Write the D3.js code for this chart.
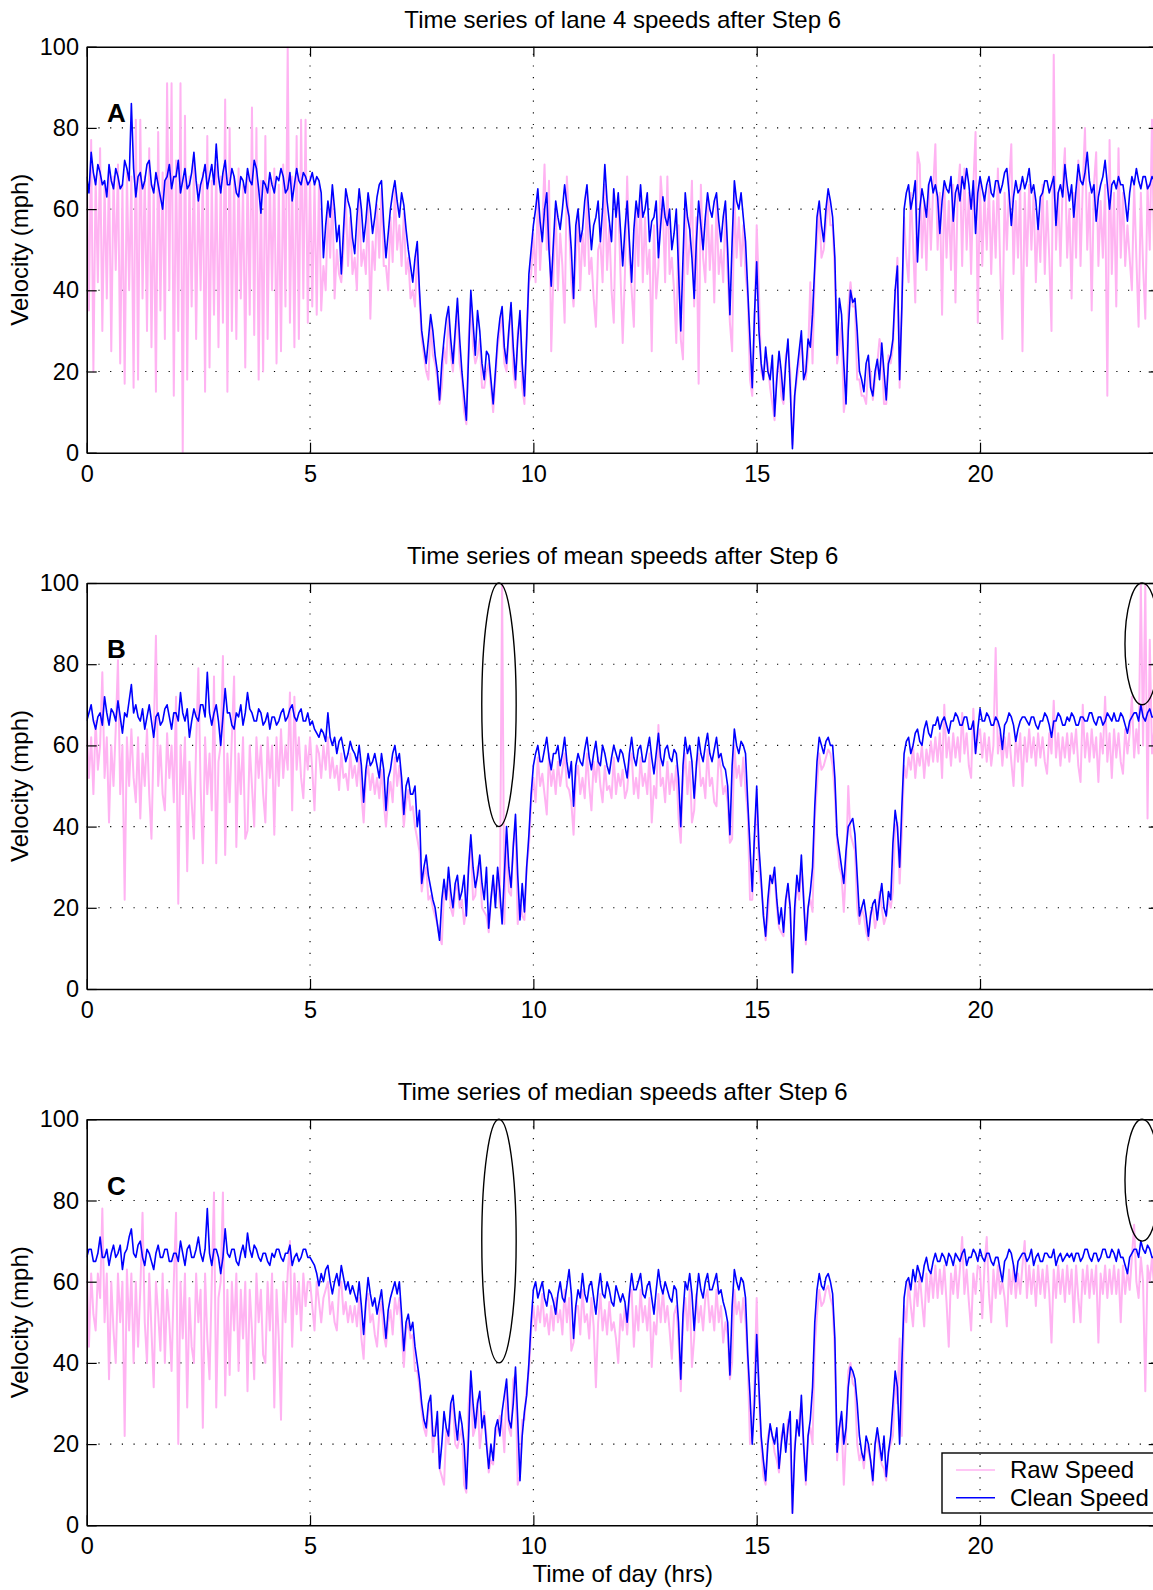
<!DOCTYPE html>
<html><head><meta charset="utf-8">
<script src="https://cdn.jsdelivr.net/npm/d3@7"></script>
<style>
body{margin:0;background:#fff;}
svg text{font-family:"Liberation Sans",Arial,Helvetica,sans-serif;}
</style></head><body>
<svg id="chart" width="1153" height="1590"></svg>
<script>
// ---------- axes / labels ----------
const hourTicks = [0, 5, 10, 15, 20];
const velTicks = [0, 20, 40, 60, 80, 100];
const titles = ["Time series of lane 4 speeds after Step 6",
                "Time series of mean speeds after Step 6",
                "Time series of median speeds after Step 6"];
const panelLetters = ["A", "B", "C"];
const seriesNames = ["Raw Speed", "Clean Speed"];
const rawStep = 0.05;    // hours between raw samples
const cleanStep = 0.05;  // hours between clean samples

// ---------- panel A (lane 4) ----------
const cleanA = [
68,64,74,69,66,71,69,66,67,63,71,67,65,70,68,65,66,72,70,67,
86,70,63,68,69,65,67,71,72,66,64,69,66,63,60,67,68,71,65,68,
68,72,64,67,70,65,66,69,74,67,62,66,68,71,65,68,71,66,76,68,
64,69,72,66,66,70,68,64,63,68,67,64,70,67,66,72,70,65,59,67,
66,64,69,66,64,68,67,70,68,64,65,69,62,66,70,67,66,69,68,66,
67,69,66,68,67,64,48,56,62,58,66,60,52,56,44,55,65,62,60,53,
49,58,65,60,52,57,64,60,54,58,63,66,67,56,48,54,60,64,67,62,
58,64,61,55,50,46,42,48,52,40,30,26,22,28,34,30,24,20,13,22,
28,33,36,28,22,30,38,28,20,14,8,24,40,32,24,35,30,22,18,25,
24,18,12,20,28,33,36,26,22,30,37,26,18,28,35,22,14,28,44,50,
56,60,65,57,52,60,64,50,41,52,62,58,55,60,66,61,58,50,38,56,
60,52,55,62,66,58,50,56,58,62,52,60,71,62,57,52,65,58,64,55,
46,55,62,52,42,55,62,58,66,58,60,64,52,57,58,62,48,56,63,58,
56,60,50,54,60,45,30,48,64,58,55,48,38,52,62,56,50,58,64,60,
58,62,64,57,52,58,62,50,34,52,67,62,60,64,58,52,40,28,16,34,
47,30,22,18,26,20,18,24,9,18,25,20,13,22,28,16,1,14,20,25,
30,18,20,28,26,34,46,58,62,56,52,60,65,62,58,48,24,38,34,22,
12,30,40,37,38,30,20,18,15,22,24,16,14,20,23,18,27,20,13,22,
24,28,40,46,18,36,60,64,66,60,63,67,47,60,65,62,58,66,68,64,
66,63,54,62,67,65,64,68,57,64,66,62,68,65,70,66,60,67,54,64,
68,65,62,66,68,64,63,67,67,64,66,69,70,64,56,63,67,64,65,68,
65,67,70,64,66,62,55,63,64,67,67,64,66,68,56,64,66,63,71,66,
62,66,58,65,71,67,66,69,74,67,64,66,57,63,66,68,72,66,60,66,
67,65,68,66,66,62,57,64,68,66,70,67,65,68,68,65,66,68,67,65,
66];
const rawA = [
70,35,77,20,68,42,75,30,66,38,70,25,68,45,71,22,66,17,69,40,
68,16,82,18,82,38,68,30,75,26,66,15,79,35,69,28,91,40,91,14,
72,30,91,0,83,18,68,36,72,28,66,40,69,15,78,21,67,34,71,26,
68,32,87,15,80,30,68,28,70,38,66,21,69,34,85,29,80,18,67,20,
78,28,68,40,70,22,66,25,71,36,100,32,68,26,78,28,82,38,82,32,
68,36,66,34,66,35,46,40,60,48,64,38,50,44,42,50,63,46,58,44,
48,40,63,46,50,44,62,33,52,45,61,48,65,46,46,40,58,47,65,50,
56,46,59,44,48,38,40,36,50,38,28,24,20,18,32,24,22,18,12,16,
26,22,34,24,20,28,36,22,18,10,7,28,38,26,22,24,28,16,16,20,
22,16,10,18,26,30,34,22,20,30,35,20,16,30,33,16,12,30,42,44,
54,42,63,45,56,71,50,67,25,44,60,40,54,46,32,68,56,42,36,48,
58,40,54,46,64,44,48,38,31,50,52,42,66,45,56,40,32,60,62,44,
27,44,68,48,40,31,60,46,64,42,58,44,50,25,56,38,46,68,60,42,
68,44,48,40,27,56,28,23,62,44,52,67,36,58,17,66,48,42,62,45,
56,37,62,44,50,42,60,44,32,25,64,48,58,46,56,44,38,18,14,30,
56,40,20,18,24,22,16,12,8,20,23,14,12,24,26,20,2,14,18,22,
28,22,18,24,42,22,44,52,60,48,50,56,63,56,56,44,22,26,32,10,
14,36,42,36,36,18,18,14,14,12,22,20,13,18,22,28,25,12,12,24,
22,26,38,48,16,36,58,48,42,64,52,37,74,71,48,62,45,66,50,65,
76,50,64,34,66,48,62,45,66,37,64,71,46,70,50,64,44,66,79,32,
66,46,64,50,66,44,62,48,70,46,28,64,50,66,76,44,62,48,66,25,
64,46,66,50,64,42,58,47,66,44,62,48,30,98,50,64,46,66,75,48,
60,38,64,48,72,46,66,80,50,64,35,66,74,46,62,48,66,14,77,44,
64,36,75,48,64,46,56,48,40,66,48,31,64,46,33,66,50,82,46,64,
62];

// ---------- panel B (mean) ----------
const cleanB = [
66,68,70,66,64,67,68,65,72,68,65,69,68,66,71,67,63,68,67,71,
75,68,70,67,66,69,64,67,70,66,62,67,68,65,66,69,70,67,64,68,
68,66,73,68,66,69,62,66,69,67,66,70,70,67,78,68,65,68,70,66,
60,67,74,68,68,65,64,68,67,70,65,68,73,69,68,66,66,69,68,65,
66,68,64,67,67,65,66,68,69,66,67,69,70,67,66,68,69,66,66,68,
65,66,64,63,62,64,63,61,68,62,60,62,58,61,62,59,56,58,61,59,
58,56,60,55,46,54,58,55,56,58,55,52,58,54,44,52,54,58,60,56,
58,52,43,50,52,48,48,50,40,44,26,30,33,28,25,22,20,16,12,22,
27,22,30,24,20,26,28,22,24,28,18,30,38,30,25,28,33,26,22,30,
15,22,28,20,30,24,16,28,40,30,25,35,43,28,17,26,19,30,38,48,
55,58,60,56,56,59,62,57,54,58,58,60,55,58,62,56,52,56,45,55,
58,56,55,59,62,57,54,58,61,56,55,60,58,55,53,57,60,58,56,59,
58,55,52,58,62,57,55,59,60,56,56,59,62,57,53,58,63,57,55,59,
60,57,56,59,58,52,40,55,62,58,60,56,47,55,62,58,56,60,63,58,
56,59,62,57,58,55,54,50,38,55,64,60,58,61,60,58,46,35,24,38,
50,35,27,18,13,22,28,26,30,22,16,20,14,22,26,20,4,20,28,24,
33,22,12,20,24,30,45,56,62,60,58,61,62,60,60,52,38,34,30,26,
34,40,41,42,38,28,18,20,22,18,13,18,21,22,17,22,26,20,18,24,
22,36,44,40,30,45,58,61,62,58,60,63,64,61,60,64,66,63,62,65,
65,67,64,66,67,65,63,66,66,68,67,65,65,67,67,64,64,66,58,64,
69,66,66,68,67,65,65,67,66,64,59,65,66,68,67,65,61,64,66,67,
67,66,65,67,67,65,64,66,66,68,67,65,62,66,66,68,67,65,65,67,
66,68,67,65,65,67,67,66,66,68,68,66,65,67,67,65,66,68,67,66,
68,66,66,68,67,65,63,66,67,68,68,66,70,67,66,68,69,67,67,69,
67];
const rawB = [
64,52,62,48,66,54,60,78,52,62,41,60,50,64,81,48,60,22,62,50,
64,52,46,62,42,58,50,64,48,37,62,87,50,60,48,44,63,52,60,46,
72,21,60,48,62,29,56,46,37,60,79,50,31,62,48,58,44,77,31,56,
60,82,33,58,46,62,77,35,58,48,62,37,39,60,50,40,62,52,60,48,
41,62,52,60,38,62,50,64,52,60,54,73,44,72,54,62,52,47,60,54,
62,54,44,60,58,52,60,54,62,52,57,52,55,49,58,52,53,49,58,52,
55,50,57,48,41,52,55,49,53,48,52,47,54,46,40,47,51,46,57,50,
55,48,40,46,49,44,45,40,37,34,24,28,30,22,23,20,18,16,13,11,
24,22,28,20,18,24,26,20,22,16,20,30,36,22,23,30,31,20,19,18,
14,22,26,24,28,20,100,16,38,24,23,36,40,16,22,18,17,30,35,46,
52,46,57,50,53,48,43,58,50,54,48,56,50,54,58,50,49,46,38,52,
55,48,52,47,58,50,44,56,51,57,50,46,55,49,50,47,57,48,53,50,
54,47,49,56,58,48,52,47,57,50,53,48,58,41,50,47,65,50,52,46,
56,48,53,49,55,42,36,52,58,48,56,41,44,56,58,50,52,47,59,50,
52,46,45,58,54,48,50,46,36,37,60,52,55,50,57,49,43,22,22,36,
47,30,25,20,12,18,26,28,28,20,15,14,13,22,24,20,4,18,26,22,
30,24,11,20,22,19,42,50,58,54,55,57,59,58,55,48,36,30,28,19,
30,50,38,36,34,20,16,20,18,14,12,19,20,15,18,24,20,16,18,22,
20,24,40,41,26,38,55,52,57,54,60,52,58,55,60,52,59,55,61,56,
62,56,63,52,70,57,62,55,63,57,62,56,68,58,63,55,52,69,58,62,
64,57,63,56,62,55,60,84,58,63,55,62,57,63,56,50,62,56,63,50,
62,56,64,57,62,55,63,57,62,56,53,63,58,71,57,63,55,62,57,63,
56,63,58,64,55,51,70,57,63,56,64,57,62,51,63,58,72,56,63,52,
64,57,63,56,53,64,58,63,72,57,64,58,100,60,100,42,86,58,64,57,
64];

// ---------- panel C (median) ----------
const cleanC = [
66,68,68,65,65,67,71,66,66,68,64,67,69,66,67,69,63,67,68,71,
73,67,66,69,70,66,64,68,67,65,63,67,69,66,66,68,68,65,65,67,
67,65,70,67,64,68,69,66,66,68,71,67,65,68,78,67,64,68,68,66,
62,66,73,67,66,68,68,65,64,67,69,66,72,68,66,69,68,66,65,67,
67,65,64,67,66,68,68,66,65,67,67,69,64,66,67,65,66,68,68,66,
66,65,64,62,59,62,60,63,64,60,57,60,62,59,64,61,58,60,57,59,
57,55,60,54,47,55,61,57,54,56,52,55,58,52,46,53,56,58,60,57,
60,52,43,50,52,48,50,44,40,36,30,26,24,30,32,22,22,28,14,20,
28,24,22,30,32,26,21,28,25,20,9,22,38,30,24,30,33,24,27,20,
14,20,16,24,26,22,28,32,36,26,24,30,39,26,11,22,28,32,40,50,
58,60,56,58,60,56,54,58,57,55,52,57,60,56,55,59,63,57,46,54,
58,56,62,57,55,59,60,56,52,58,62,57,56,60,58,55,54,59,57,55,
57,55,50,57,62,58,58,60,62,57,56,59,60,56,52,58,63,59,57,60,
58,56,55,59,58,50,36,52,60,58,62,57,48,56,62,58,56,60,62,58,
58,60,62,57,58,55,53,50,37,54,63,60,58,61,60,56,42,32,20,30,
47,34,22,16,11,20,25,22,20,24,14,20,25,18,24,28,3,18,26,22,
32,20,11,22,26,34,50,58,62,59,58,61,62,60,57,46,18,24,28,20,
24,34,39,38,36,30,22,18,16,22,20,16,11,20,24,20,16,22,12,18,
22,30,38,34,20,40,56,60,61,58,63,60,64,62,60,64,66,63,62,65,
67,65,65,67,66,64,67,66,64,67,66,65,67,68,64,66,66,68,67,65,
68,66,65,67,67,65,64,66,66,63,60,65,66,68,67,64,60,65,66,67,
67,65,66,68,64,66,67,65,65,67,67,66,66,68,64,66,67,65,66,67,
66,67,65,67,67,65,66,68,68,66,65,67,67,65,66,68,68,66,66,68,
67,65,68,66,66,64,62,66,67,68,68,66,70,68,67,69,68,66,66,68,
67];
const rawC = [
64,44,62,52,48,62,56,78,50,62,36,60,48,40,62,50,60,22,63,48,
62,40,60,44,58,77,50,40,62,48,34,60,52,43,62,40,58,50,38,60,
77,20,60,46,62,29,56,44,40,62,50,58,24,62,46,36,60,82,29,56,
60,82,32,58,37,60,48,62,38,58,46,60,33,58,48,36,62,50,58,42,
40,60,48,62,29,58,46,26,60,50,62,70,44,62,52,60,48,62,54,60,
60,54,48,60,55,50,56,58,60,52,55,50,48,58,60,52,55,50,54,50,
54,49,56,46,41,55,57,50,52,47,44,52,55,47,44,50,53,47,56,52,
56,48,39,48,50,46,47,38,38,34,28,24,22,28,30,18,24,26,14,12,
10,24,20,28,30,20,19,22,24,10,8,30,36,22,24,31,19,24,28,22,
13,16,15,22,24,27,26,18,34,24,22,36,37,10,12,26,26,34,38,48,
54,48,54,50,57,49,52,47,54,48,56,50,53,47,58,50,56,43,45,54,
54,47,58,50,52,46,56,49,34,50,57,48,53,47,55,48,50,46,40,52,
48,54,47,56,58,44,54,48,58,50,54,48,56,39,50,47,57,50,58,50,
54,48,41,52,54,46,33,50,56,48,58,39,46,57,50,54,48,56,58,50,
54,48,58,50,54,45,50,47,36,40,58,52,55,50,56,50,40,20,22,35,
56,32,20,12,10,22,24,22,18,16,13,22,24,20,26,22,3,20,24,26,
30,20,10,22,24,20,44,52,58,54,55,58,59,56,54,42,16,24,26,10,
22,38,40,35,34,20,16,18,14,20,18,16,10,20,22,18,15,14,11,18,
20,22,36,30,46,22,54,50,60,54,49,60,54,62,55,49,62,55,63,56,
64,56,63,57,64,55,44,62,57,64,56,63,71,57,63,55,48,62,57,64,
63,51,64,71,57,50,63,56,64,57,60,56,49,63,57,64,56,62,57,64,
70,56,64,57,63,54,64,57,63,56,64,57,45,63,56,64,57,63,55,64,
57,63,50,64,56,50,63,57,64,56,63,57,64,45,62,57,64,56,63,57,
64,57,63,50,64,57,63,58,66,74,60,56,66,60,33,64,60,66,58,64,
64];

// ellipses highlighting the outliers (hour centre, mph centre, hour radius, mph radius)
const outlierMarks = [
  {t: 9.23, v: 70, rt: 0.385, rv: 30},
  {t: 23.63, v: 85, rt: 0.385, rv: 15}
];

const panels = [
  {raw: rawA, clean: cleanA, marks: []},
  {raw: rawB, clean: cleanB, marks: outlierMarks},
  {raw: rawC, clean: cleanC, marks: outlierMarks}
];

// ---------- drawing ----------
const RAW_COLOR = "#ffb3f2", CLEAN_COLOR = "#0000ff";
const TICK_FONT = 23.5, LABEL_FONT = 24;
const svg = d3.select("#chart");
const left = 86.7, W = 1072, H = 406;
const tops = [46.7, 583, 1119.3];

const x = d3.scaleLinear().domain([0, 24]).range([0, W]);
const y = d3.scaleLinear().domain([0, 100]).range([H, 0]);

svg.append("defs").append("clipPath").attr("id", "plotclip")
  .append("rect").attr("x", 0).attr("y", 0).attr("width", W).attr("height", H);

const rawLine = d3.line().x((d, i) => x(i * rawStep)).y(d => y(d));
const cleanLine = d3.line().x((d, i) => x(i * cleanStep)).y(d => y(d));

function styleAxis(sel, labels) {
  sel.attr("font-family", null).attr("font-size", TICK_FONT);
  sel.selectAll("text").attr("fill", "#000");
  sel.select(".domain").attr("stroke", "#000").attr("stroke-width", 1.6);
  sel.selectAll(".tick line").attr("stroke", "#000").attr("stroke-width", 1.2);
  if (!labels) sel.selectAll("text").remove();
}

panels.forEach((p, k) => {
  const g = svg.append("g").attr("transform", `translate(${left},${tops[k]})`);

  // dotted grid
  const grid = g.append("g").attr("stroke", "#000").attr("stroke-width", 1.1)
    .attr("stroke-dasharray", "1.2,10.5");
  grid.selectAll("line.v").data(hourTicks.filter(h => h > 0)).join("line")
    .attr("class", "v").attr("x1", d => x(d)).attr("x2", d => x(d))
    .attr("y1", H).attr("y2", 0);
  grid.selectAll("line.h").data(velTicks.filter(v => v > 0 && v < 100)).join("line")
    .attr("class", "h").attr("y1", d => y(d)).attr("y2", d => y(d))
    .attr("x1", 0).attr("x2", W);

  // data
  const data = g.append("g").attr("clip-path", "url(#plotclip)");
  data.append("path").datum(p.raw).attr("d", rawLine)
    .attr("fill", "none").attr("stroke", RAW_COLOR).attr("stroke-width", 2)
    .attr("stroke-linejoin", "round");
  data.append("path").datum(p.clean).attr("d", cleanLine)
    .attr("fill", "none").attr("stroke", CLEAN_COLOR).attr("stroke-width", 1.6)
    .attr("stroke-linejoin", "round");

  // outlier ellipses
  g.selectAll("ellipse").data(p.marks).join("ellipse")
    .attr("cx", d => x(d.t)).attr("cy", d => y(d.v))
    .attr("rx", d => x(d.rt) - x(0)).attr("ry", d => y(0) - y(d.rv))
    .attr("fill", "none").attr("stroke", "#000").attr("stroke-width", 1.4);

  // axes (MATLAB-style inward ticks on all sides)
  g.append("g").attr("transform", `translate(0,${H})`)
    .call(d3.axisBottom(x).tickValues(hourTicks).tickSize(-10).tickSizeOuter(0).tickPadding(12.5))
    .call(s => styleAxis(s, true));
  g.append("g")
    .call(d3.axisTop(x).tickValues(hourTicks).tickSize(-10).tickSizeOuter(0))
    .call(s => styleAxis(s, false));
  g.append("g")
    .call(d3.axisLeft(y).tickValues(velTicks).tickSize(-10).tickSizeOuter(0).tickPadding(7.7))
    .call(s => styleAxis(s, true));
  g.append("g").attr("transform", `translate(${W},0)`)
    .call(d3.axisRight(y).tickValues(velTicks).tickSize(-10).tickSizeOuter(0))
    .call(s => styleAxis(s, false));

  // title
  g.append("text").attr("x", W / 2).attr("y", -19).attr("text-anchor", "middle")
    .attr("font-size", LABEL_FONT).text(titles[k]);
  // y label
  g.append("text").attr("transform", `translate(${20 - left},${H / 2}) rotate(-90)`)
    .attr("text-anchor", "middle").attr("dy", "0.35em").attr("font-size", LABEL_FONT)
    .text("Velocity (mph)");
  // panel letter
  g.append("text").attr("x", 20.3).attr("y", 75.3).attr("font-size", 26)
    .attr("font-weight", "bold").text(panelLetters[k]);
});

// legend (panel C)
const lg = svg.append("g");
lg.append("rect").attr("x", 942).attr("y", 1453).attr("width", 216).attr("height", 60)
  .attr("fill", "none").attr("stroke", "#000").attr("stroke-width", 1.4);
[RAW_COLOR, CLEAN_COLOR].forEach((c, i) => {
  const yy = 1470 + i * 27.7;
  lg.append("line").attr("x1", 956).attr("x2", 995).attr("y1", yy).attr("y2", yy)
    .attr("stroke", c).attr("stroke-width", 1.6);
  lg.append("text").attr("x", 1010).attr("y", yy + 8.3).attr("font-size", LABEL_FONT)
    .text(seriesNames[i]);
});

// x label
svg.append("text").attr("x", left + W / 2).attr("y", 1582).attr("text-anchor", "middle")
  .attr("font-size", LABEL_FONT).text("Time of day (hrs)");
</script>
</body></html>
